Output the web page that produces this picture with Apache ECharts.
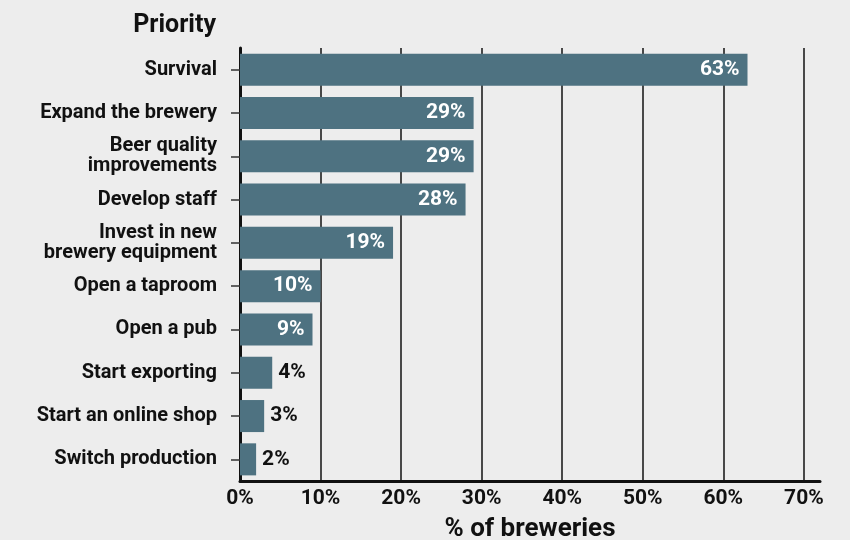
<!DOCTYPE html>
<html><head><meta charset="utf-8">
<script src="https://cdn.jsdelivr.net/npm/echarts@6/dist/echarts.min.js"></script>
<style>html,body{margin:0;padding:0;background:#ededed}#c{width:850px;height:540px}</style>
</head><body><div id="c"></div>
<script>
const categories = ["Survival","Expand the brewery","Beer quality\nimprovements","Develop staff","Invest in new\nbrewery equipment","Open a taproom","Open a pub","Start exporting","Start an online shop","Switch production"];
const values = [63,29,29,28,19,10,9,4,3,2];
const xTicks = [0,10,20,30,40,50,60,70];
const FONT = 'Roboto, "Liberation Sans", Arial, sans-serif';
const chart = echarts.init(document.getElementById('c'));
chart.setOption({
  backgroundColor:'#ededed',
  animation:false,
  title:{text:'Priority',right:629,top:8,textStyle:{fontFamily:FONT,fontWeight:'bold',fontSize:25,color:'#111'}},
  grid:{left:240,right:30,top:48,bottom:59,outerBoundsMode:'none',containLabel:false},
  xAxis:{type:'value',min:0,max:72,interval:10,
    name:'% of breweries',nameLocation:'middle',nameGap:35,
    nameTextStyle:{fontFamily:FONT,fontWeight:'bold',fontSize:26,color:'#111'},
    axisLine:{show:true,lineStyle:{color:'#111',width:3}},
    axisTick:{show:false},
    axisLabel:{fontFamily:FONT,fontWeight:'bold',fontSize:21,color:'#111',margin:7,
      formatter:v=>xTicks.includes(v)?v+'%':''},
    splitLine:{show:true,showMaxLine:false,lineStyle:{color:'#111',width:1.5}}
  },
  yAxis:{type:'category',data:categories,inverse:true,
    axisLine:{show:true,lineStyle:{color:'#111',width:3}},
    axisTick:{show:true,length:9,lineStyle:{color:'#333',width:1.5},alignWithLabel:true},
    axisLabel:{fontFamily:FONT,fontWeight:'bold',fontSize:20,color:'#111',margin:23,lineHeight:20,align:'right'}
  },
  series:[{type:'bar',data:values.map(v=>({value:v,label:{position:v>=9?'insideRight':'right',color:v>=9?'#fff':'#111',distance:v>=9?8:6}})),
    barCategoryGap:'26%',itemStyle:{color:'#4e7281'},
    label:{show:true,formatter:'{c}%',fontFamily:FONT,fontWeight:'bold',fontSize:21}
  }]
});
</script></body></html>
